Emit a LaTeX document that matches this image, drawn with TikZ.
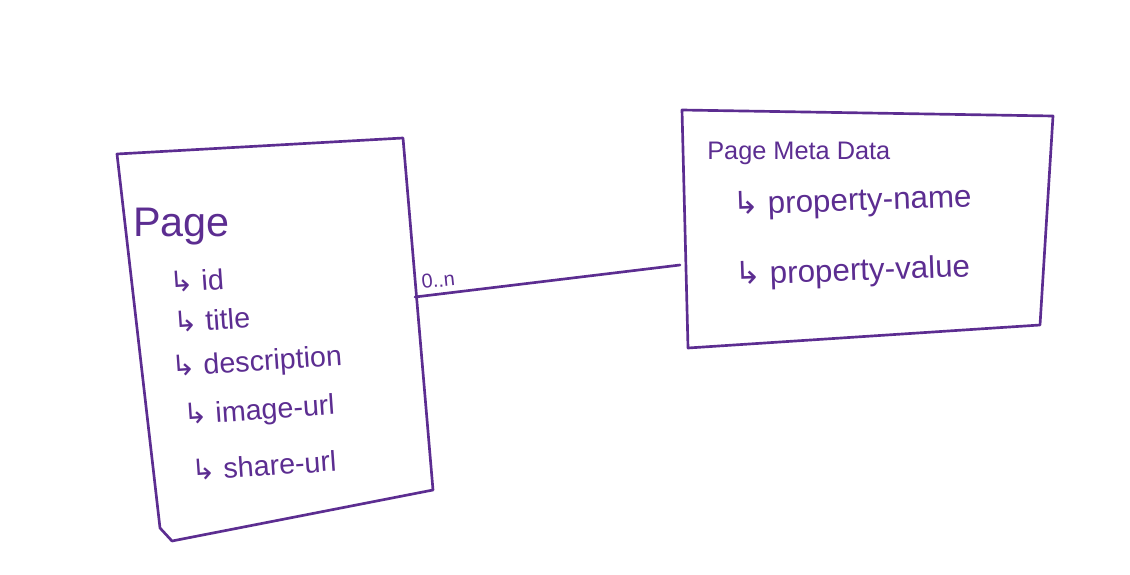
\documentclass[tikz,border=0pt]{standalone}
\usepackage{fontspec}
\setmainfont{Liberation Sans}
\newfontfamily\arrowfont{DejaVu Sans}
\usepackage{tikz}
\usetikzlibrary{positioning,calc}

\definecolor{ink}{RGB}{92,45,145}
\newcommand{\sub}{{\arrowfont ↳}\ }

\begin{document}
\begin{tikzpicture}[x=0.75pt, y=-0.75pt,
    every node/.style={text=ink, inner sep=0pt, anchor=base west},
    box/.style={draw=ink, line width=2pt, line join=round, line cap=round},
    field/.style={font=\fontsize{21.5}{26}\selectfont, rotate=4},
    metafield/.style={font=\fontsize{23.5}{28}\selectfont, rotate=2}]
    \useasboundingbox (0,0) rectangle (1130,574);

    % Page card
    \coordinate (pagetl) at (117,154);
    \coordinate (pagetr) at (403,138);
    \coordinate (pagebr) at (433,490);
    \coordinate (pagebl) at (172,541);
    \coordinate (pagebk) at (160,528);
    \draw[box] (pagetl) -- (pagetr) -- (pagebr) -- (pagebl) -- (pagebk) -- cycle;

    \node[font=\fontsize{31}{36}\selectfont] (page) at (133,236) {Page};
    \node[field] (id)    at (170,293) {\sub id};
    \node[field] (title) at (174,333) {\sub title};
    \node[field] (desc)  at (172,377) {\sub description};
    \node[field] (image) at (184,425) {\sub image-url};
    \node[field] (share) at (192,481) {\sub share-url};

    % Page Meta Data card
    \coordinate (metatl) at (682,110);
    \coordinate (metatr) at (1053,116);
    \coordinate (metabr) at (1040,325);
    \coordinate (metabl) at (688,348);
    \draw[box] (metatl) -- (metatr) -- (metabr) -- (metabl) -- cycle;

    \node[font=\fontsize{19}{23}\selectfont] (meta) at (707,160) {Page Meta Data};
    \node[metafield] (propname)  at (733,215) {\sub property-name};
    \node[metafield] (propvalue) at (735,285) {\sub property-value};

    % relation
    \coordinate (pagelink) at (415,297);
    \coordinate (metalink) at (680,265);
    \draw[box] (pagelink) -- (metalink);
    \node[font=\fontsize{15}{18}\selectfont, rotate=6] (card) at (422,289) {0..n};
\end{tikzpicture}
\end{document}
